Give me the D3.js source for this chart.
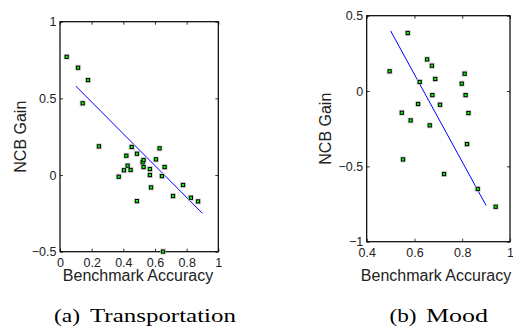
<!DOCTYPE html>
<html>
<head>
<meta charset="utf-8">
<script src="https://cdn.jsdelivr.net/npm/d3@7"></script>
<style>
  body { margin: 0; background: #fff; }
  svg { display: block; }
</style>
</head>
<body>
<svg width="513" height="326"></svg>
<script>
// (a) Transportation
const transX = [0.042, 0.114, 0.177, 0.143, 0.246, 0.371, 0.404, 0.419, 0.427, 0.446,
    0.453, 0.486, 0.486, 0.522, 0.528, 0.528, 0.568, 0.568, 0.575, 0.606,
    0.629, 0.644, 0.661, 0.651, 0.714, 0.777, 0.827, 0.872];
const transY = [0.771, 0.700, 0.619, 0.468, 0.187, -0.011, 0.031, 0.126, 0.061, 0.033,
    0.183, 0.139, -0.170, 0.083, 0.098, 0.052, 0.039, 0.000, -0.081, 0.102,
    0.174, -0.007, 0.052, -0.499, -0.137, -0.065, -0.148, -0.172];
const transFitX = [0.1, 0.9];
const transFitY = [0.58, -0.25];
const transXTicks = [0, 0.2, 0.4, 0.6, 0.8, 1];
const transYTicks = [-0.5, 0, 0.5, 1];

// (b) Mood
const moodX = [0.496, 0.572, 0.653, 0.673, 0.687, 0.622, 0.675, 0.615, 0.707, 0.547,
    0.584, 0.664, 0.552, 0.724, 0.798, 0.810, 0.814, 0.826, 0.820, 0.865, 0.940];
const moodY = [0.131, 0.385, 0.210, 0.168, 0.080, 0.060, -0.027, -0.086, -0.091, -0.144,
    -0.195, -0.228, -0.454, -0.551, 0.049, 0.115, -0.027, -0.146, -0.352, -0.650, -0.768];
const moodFitX = [0.5, 0.9];
const moodFitY = [0.40, -0.76];
const moodXTicks = [0.4, 0.6, 0.8, 1];
const moodYTicks = [-1, -0.5, 0, 0.5];

const xLabel = 'Benchmark Accuracy';
const yLabel = 'NCB Gain';

const sans = '"Liberation Sans", Arial, Helvetica, sans-serif';
const serif = '"Liberation Serif", "Times New Roman", serif';

const svg = d3.select('svg');

const fmt = d => String(+d.toFixed(1)).replace('-', '\u2212');

function panel(o) {
    const x = d3.scaleLinear().domain(o.xDomain).range([o.left, o.right]);
    const y = d3.scaleLinear().domain(o.yDomain).range([o.bottom, o.top]);
    const g = svg.append('g');

    // ticks pointing inward on all four sides
    const axes = [
        [d3.axisBottom(x).tickValues(o.xTicks).tickFormat(fmt), `translate(0,${o.bottom})`],
        [d3.axisTop(x).tickValues(o.xTicks).tickFormat(''), `translate(0,${o.top})`],
        [d3.axisLeft(y).tickValues(o.yTicks).tickFormat(fmt), `translate(${o.left},0)`],
        [d3.axisRight(y).tickValues(o.yTicks).tickFormat(''), `translate(${o.right},0)`]
    ];
    axes.forEach(([ax, tr], i) => {
        const a = g.append('g')
            .attr('transform', tr)
            .call(ax.tickSizeInner(-3).tickSizeOuter(0).tickPadding(i === 0 ? 6 : 3.5));
        a.select('.domain').remove();
        a.selectAll('line').attr('stroke', '#000').attr('stroke-width', 0.8);
        a.selectAll('text')
            .attr('fill', '#222')
            .style('font-family', sans)
            .style('font-size', '12.5px');
    });

    g.append('rect')
        .attr('x', o.left).attr('y', o.top)
        .attr('width', o.right - o.left).attr('height', o.bottom - o.top)
        .attr('fill', 'none').attr('stroke', '#000').attr('stroke-width', 1.2);

    // fit line
    const line = d3.line().x(d => x(d[0])).y(d => y(d[1]));
    g.append('path')
        .datum(o.fitX.map((v, i) => [v, o.fitY[i]]))
        .attr('fill', 'none').attr('stroke', '#0000ff').attr('stroke-width', 1)
        .attr('d', line);

    // markers
    const pts = o.px.map((v, i) => [v, o.py[i]]);
    g.selectAll('rect.halo').data(pts).join('rect')
        .attr('class', 'halo')
        .attr('x', d => x(d[0]) - 3).attr('y', d => y(d[1]) - 3)
        .attr('width', 6).attr('height', 6)
        .attr('fill', '#c4c4c4').attr('opacity', 0.7);
    g.selectAll('rect.pt').data(pts).join('rect')
        .attr('class', 'pt')
        .attr('x', d => x(d[0]) - 1.6).attr('y', d => y(d[1]) - 1.6)
        .attr('width', 3.2).attr('height', 3.2)
        .attr('fill', '#00ff00').attr('stroke', '#000').attr('stroke-width', 1);

    g.append('text')
        .attr('x', o.xLabelX).attr('y', 281)
        .attr('text-anchor', 'middle')
        .attr('fill', '#222')
        .style('font-family', sans).style('font-size', '16px')
        .text(xLabel);

    g.append('text')
        .attr('transform', `translate(${o.yLabelX},${(o.top + o.bottom) / 2}) rotate(-90)`)
        .attr('text-anchor', 'middle')
        .attr('fill', '#222')
        .style('font-family', sans).style('font-size', '16px')
        .text(yLabel);
}

panel({
    xDomain: [0, 1], yDomain: [-0.5, 1],
    left: 60, right: 218.3, top: 21.7, bottom: 251.7,
    xTicks: transXTicks, yTicks: transYTicks,
    px: transX, py: transY, fitX: transFitX, fitY: transFitY,
    xLabelX: 138, yLabelX: 25.5
});

panel({
    xDomain: [0.4, 1], yDomain: [-1, 0.5],
    left: 366.7, right: 510, top: 15.7, bottom: 241.7,
    xTicks: moodXTicks, yTicks: moodYTicks,
    px: moodX, py: moodY, fitX: moodFitX, fitY: moodFitY,
    xLabelX: 436, yLabelX: 330.5
});

// captions
function caption(tag, tagX, tagW, name, nameX, nameW) {
    svg.append('text')
        .attr('x', tagX).attr('y', 322)
        .attr('textLength', tagW).attr('lengthAdjust', 'spacingAndGlyphs')
        .style('font-family', serif).style('font-size', '18px')
        .text(tag);
    svg.append('text')
        .attr('x', nameX).attr('y', 322)
        .attr('textLength', nameW).attr('lengthAdjust', 'spacingAndGlyphs')
        .style('font-family', serif).style('font-size', '18px')
        .text(name);
}
caption('(a)', 54, 26, 'Transportation', 90, 146);
caption('(b)', 389.5, 27, 'Mood', 426, 62);
</script>
</body>
</html>
